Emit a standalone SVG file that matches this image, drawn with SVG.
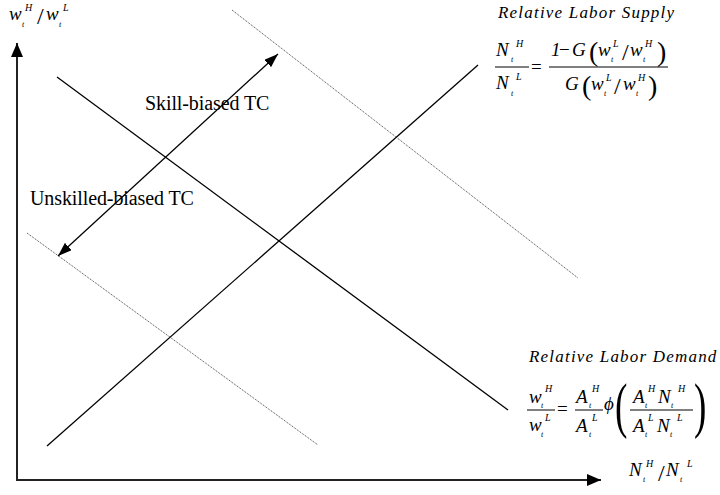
<svg xmlns="http://www.w3.org/2000/svg" width="720" height="495" viewBox="0 0 720 495">
<defs>
<marker id="ah" viewBox="0 0 14 10" refX="14" refY="5" markerWidth="14" markerHeight="10" markerUnits="userSpaceOnUse" orient="auto-start-reverse">
<path d="M0,0 L14,5 L0,10 Z" fill="#000"/>
</marker>
<marker id="axh" viewBox="0 0 14 12" refX="14" refY="6" markerWidth="14" markerHeight="12" markerUnits="userSpaceOnUse" orient="auto">
<path d="M0,0 L14,6 L0,12 Z" fill="#000"/>
</marker>
<style>
.m{font-family:"Liberation Serif","Times New Roman",serif;font-style:italic;font-size:19px;fill:#000}
.sp{font-family:"Liberation Serif","Times New Roman",serif;font-style:italic;font-size:10px;fill:#000}
.sb{font-family:"Liberation Serif","Times New Roman",serif;font-style:italic;font-size:8px;fill:#000}
.op{font-family:"Liberation Serif","Times New Roman",serif;font-size:19px;fill:#000}
.sl{font-family:"Liberation Serif","Times New Roman",serif;font-size:24px;fill:#000}
.ttl{font-family:"Liberation Serif","Times New Roman",serif;font-style:italic;font-size:17px;letter-spacing:1.2px;fill:#000}
.lbl{font-family:"Liberation Serif","Times New Roman",serif;font-size:20px;letter-spacing:-0.1px;fill:#000}
.bar{stroke:#000;stroke-width:1}
.solid{stroke:#000;stroke-width:1.3;fill:none}
.dot{stroke:#444;stroke-width:1;stroke-dasharray:1 1;fill:none}
.axis{stroke:#222;stroke-width:2;fill:none}
.par{font-family:"Liberation Serif","Times New Roman",serif;font-size:28px;fill:#000}
.bigpar{font-family:"Liberation Serif","Times New Roman",serif;font-size:62px;fill:#000}
</style>
</defs>

<g id="connectors">
<line id="y-axis" class="axis" x1="17" y1="481" x2="17" y2="43" marker-end="url(#axh)"/>
<line id="x-axis" class="axis" x1="16" y1="480" x2="601" y2="480" marker-end="url(#axh)"/>
<line id="demand" class="solid" x1="57" y1="77" x2="508" y2="410"/>
<line id="supply" class="solid" x1="47" y1="446" x2="478" y2="65"/>
<line id="demand-high" class="dot" x1="232" y1="10" x2="578" y2="278"/>
<line id="demand-low" class="dot" x1="27" y1="233" x2="318" y2="445"/>
<line id="tc-arrow" class="solid" x1="58" y1="256" x2="278" y2="54" marker-start="url(#ah)" marker-end="url(#ah)"/>
</g>

<g id="y-label">
<text class="m" x="9" y="20">w</text><text class="sb" x="22" y="27">t</text><text class="sp" x="25" y="11">H</text>
<text class="sl" x="37" y="24">/</text>
<text class="m" x="46" y="20">w</text><text class="sb" x="59" y="27">t</text><text class="sp" x="63" y="11">L</text>
</g>

<g id="x-label">
<text class="m" x="629" y="476">N</text><text class="sb" x="643" y="482">t</text><text class="sp" x="646" y="467">H</text>
<text class="sl" x="658" y="481">/</text>
<text class="m" x="666" y="476">N</text><text class="sb" x="680" y="482">t</text><text class="sp" x="687" y="467">L</text>
</g>

<g id="skill-label"><text class="lbl" x="145" y="110">Skill-biased TC</text></g>
<g id="unskill-label"><text class="lbl" x="30" y="205">Unskilled-biased TC</text></g>

<g id="supply-label">
<text class="ttl" x="498" y="18">Relative Labor Supply</text>
<text class="m" x="496" y="56">N</text><text class="sb" x="511" y="62">t</text><text class="sp" x="516" y="47">H</text>
<line class="bar" x1="495" y1="67" x2="529" y2="67"/>
<text class="m" x="496" y="89">N</text><text class="sb" x="511" y="96">t</text><text class="sp" x="516" y="80">L</text>
<text class="op" x="531" y="73">=</text>
<line class="bar" x1="549" y1="67" x2="668" y2="67"/>
<text class="m" x="551" y="56">1</text><text class="op" x="559" y="56">−</text><text class="m" x="572" y="56">G</text>
<text class="par" x="589" y="61">(</text>
<text class="m" x="598" y="56">w</text><text class="sb" x="611" y="62">t</text><text class="sp" x="613" y="47">L</text>
<text class="sl" x="622" y="60">/</text>
<text class="m" x="630" y="56">w</text><text class="sb" x="643" y="62">t</text><text class="sp" x="645" y="47">H</text>
<text class="par" x="657" y="61">)</text>
<text class="m" x="565" y="90">G</text>
<text class="par" x="582" y="95">(</text>
<text class="m" x="591" y="90">w</text><text class="sb" x="604" y="96">t</text><text class="sp" x="606" y="81">L</text>
<text class="sl" x="614" y="94">/</text>
<text class="m" x="623" y="90">w</text><text class="sb" x="636" y="96">t</text><text class="sp" x="638" y="81">H</text>
<text class="par" x="648" y="95">)</text>
</g>

<g id="demand-label">
<text class="ttl" x="529" y="362">Relative Labor Demand</text>
<text class="m" x="529" y="403">w</text><text class="sb" x="541" y="408">t</text><text class="sp" x="545" y="392">H</text>
<line class="bar" x1="527" y1="410" x2="555" y2="410"/>
<text class="m" x="529" y="431">w</text><text class="sb" x="541" y="437">t</text><text class="sp" x="545" y="421">L</text>
<text class="op" x="557" y="415">=</text>
<text class="m" x="576" y="403">A</text><text class="sb" x="589" y="408">t</text><text class="sp" x="592" y="392">H</text>
<line class="bar" x1="575" y1="410" x2="603" y2="410"/>
<text class="m" x="576" y="432">A</text><text class="sb" x="589" y="437">t</text><text class="sp" x="592" y="421">L</text>
<text class="m" x="604" y="410">ϕ</text>
<text class="bigpar" x="615" y="426" transform="translate(615 0) scale(0.6 1) translate(-615 0)">(</text>
<text class="m" x="633" y="403">A</text><text class="sb" x="645" y="408">t</text><text class="sp" x="648" y="392">H</text>
<text class="m" x="658" y="403">N</text><text class="sb" x="671" y="408">t</text><text class="sp" x="678" y="392">H</text>
<line class="bar" x1="630" y1="410" x2="693" y2="410"/>
<text class="m" x="633" y="432">A</text><text class="sb" x="645" y="437">t</text><text class="sp" x="648" y="421">L</text>
<text class="m" x="657" y="432">N</text><text class="sb" x="670" y="437">t</text><text class="sp" x="677" y="421">L</text>
<text class="bigpar" x="694" y="426" transform="translate(694 0) scale(0.6 1) translate(-694 0)">)</text>
</g>
</svg>
